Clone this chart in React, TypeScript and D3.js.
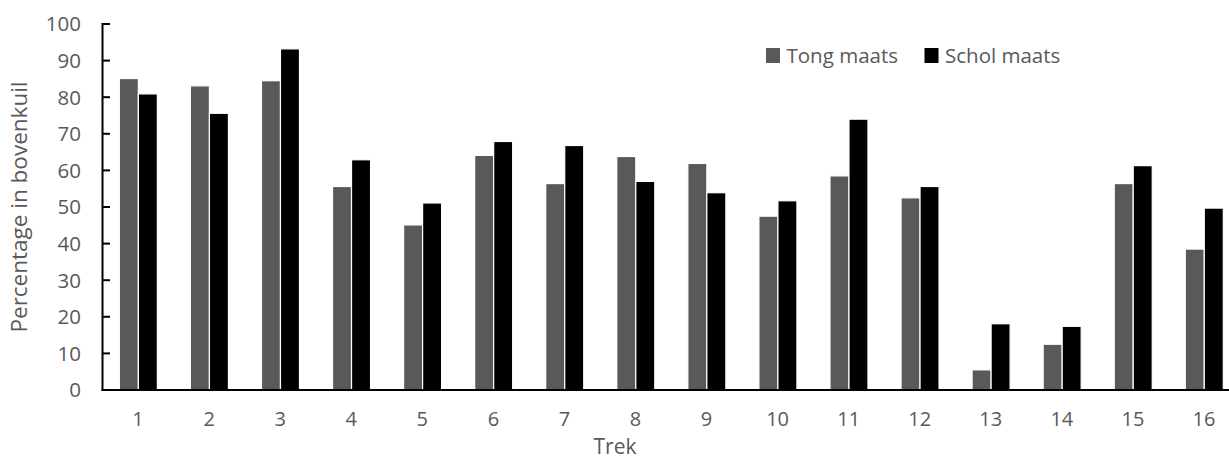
import React from "react";
import * as d3 from "d3";

const categories = ["1", "2", "3", "4", "5", "6", "7", "8", "9", "10", "11", "12", "13", "14", "15", "16"];
const seriesNames = ["Tong maats", "Schol maats"];
const tongValues = [85.1, 83.1, 84.5, 55.6, 45.1, 64.1, 56.4, 63.8, 61.9, 47.5, 58.5, 52.5, 5.5, 12.5, 56.4, 38.5];
const scholValues = [80.9, 75.6, 93.2, 62.9, 51.1, 67.9, 66.8, 57.0, 53.9, 51.7, 74.0, 55.6, 18.1, 17.4, 61.3, 49.7];
const yTicks = [0, 10, 20, 30, 40, 50, 60, 70, 80, 90, 100];
const seriesColors = ["#595959", "#000000"];

const W = 1229;
const H = 460;
const FONT = "'Open Sans', sans-serif";
const TEXT = "#595959";
const TICK_SIZE = 20.5;
const X_TICK_SIZE = 20;
const TITLE_SIZE = 22.5;
const X_TITLE_SIZE = 21;

export default function App() {
  const x0 = d3.scaleBand<string>().domain(categories).range([102.5, 1239.5]).padding(0);
  const bw = x0.bandwidth();
  const x1 = d3
    .scaleBand<string>()
    .domain(seriesNames)
    .range([bw * 0.237, bw * 0.772])
    .padding(0);
  const y = d3.scaleLinear().domain([0, 100]).range([390, 24]);
  const seriesValues = [tongValues, scholValues];

  return (
    <svg
      width={W}
      height={H}
      style={{ position: "absolute", left: 0, top: 0, background: "#fff" }}
      fontFamily={FONT}
    >
      {/* bars */}
      {categories.map((c, i) => (
        <g key={c} transform={`translate(${x0(c)},0)`}>
          {seriesNames.map((s, k) => {
            const v = seriesValues[k][i];
            return (
              <rect
                key={s}
                x={x1(s)}
                y={y(v)}
                width={x1.bandwidth()}
                height={y(0) - y(v)}
                fill={seriesColors[k]}
                stroke="#ffffff"
                strokeWidth={1.2}
              />
            );
          })}
        </g>
      ))}

      {/* y axis with inward ticks */}
      <line x1={102.5} x2={102.5} y1={y(100) - 1} y2={y(0) + 1} stroke="#000" strokeWidth={2} />
      {yTicks.map((t) => (
        <g key={t}>
          <line x1={102.5} x2={110} y1={y(t)} y2={y(t)} stroke="#000" strokeWidth={2} />
          <text x={81} y={y(t)} dy="0.36em" textAnchor="end" fontSize={TICK_SIZE} fill={TEXT}>
            {t}
          </text>
        </g>
      ))}

      {/* x axis */}
      <line x1={101.5} x2={W} y1={y(0)} y2={y(0)} stroke="#000" strokeWidth={2} />
      {categories.map((c) => (
        <text key={c} x={(x0(c) ?? 0) + bw / 2} y={425.5} textAnchor="middle" fontSize={X_TICK_SIZE} fill={TEXT}>
          {c}
        </text>
      ))}

      {/* axis titles */}
      <text x={615} y={453.5} textAnchor="middle" fontSize={X_TITLE_SIZE} fill={TEXT}>
        Trek
      </text>
      <text
        transform={`translate(27,207) rotate(-90)`}
        textAnchor="middle"
        fontSize={TITLE_SIZE}
        fill={TEXT}
      >
        Percentage in bovenkuil
      </text>

      {/* legend */}
      {seriesNames.map((s, k) => {
        const lx = k === 0 ? 766 : 924.5;
        return (
          <g key={s}>
            <rect x={lx} y={48} width={14} height={15} fill={seriesColors[k]} />
            <text x={lx + 20.5} y={62.5} fontSize={TICK_SIZE} fill={TEXT}>
              {s}
            </text>
          </g>
        );
      })}
    </svg>
  );
}
